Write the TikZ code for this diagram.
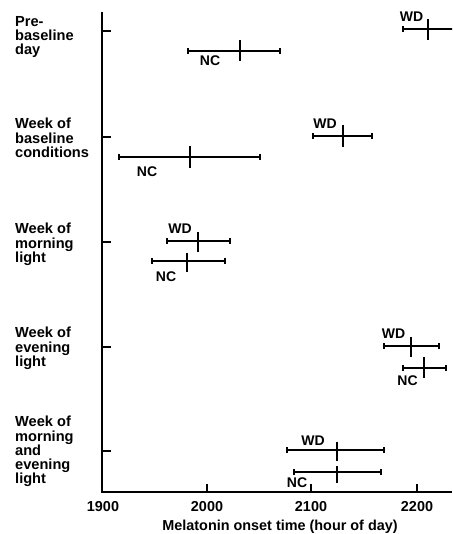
\documentclass[tikz,border=0pt]{standalone}
\usepackage{fontspec}
\setmainfont{Liberation Sans}
\begin{document}
\begin{tikzpicture}[x=1pt,y=-1pt,
  axisline/.style={line width=1.5pt},
  barline/.style={line width=1.3pt},
  midtick/.style={line width=2.7pt},
  rowlabel/.style={anchor=north west,inner sep=0pt,align=left,font=\fontsize{14.6}{14.3}\selectfont\bfseries},
  grp/.style={inner sep=0pt,font=\fontsize{14}{14}\selectfont\bfseries},
  ticklabel/.style={inner sep=0pt,font=\fontsize{14.4}{14}\selectfont\bfseries}]
\useasboundingbox (0,0) rectangle (452,534);
% error bar: y, left, centre, right, tick top, tick bottom
\newcommand\errbar[6]{%
  \draw[barline] (#2,#1) -- (#4,#1);
  \draw[barline] (#2,#1-3) -- (#2,#1+3);
  \draw[barline] (#4,#1-3) -- (#4,#1+3);
  \draw[midtick] (#3,#5) -- (#3,#6);}
% axes
\draw[axisline] (102,12) -- (102,492) -- (452,492);
\foreach \yy in {31,137,242,347,451} \draw[axisline] (102,\yy) -- (111,\yy);
\foreach \xx in {207,311,417} \draw[axisline] (\xx,492) -- (\xx,484);
\node[ticklabel] (t19) at (103,507) {1900};
\node[ticklabel] (t20) at (207,507) {2000};
\node[ticklabel] (t21) at (311,507) {2100};
\node[ticklabel] (t22) at (417,507) {2200};
\node[ticklabel,anchor=base] (xt) at (280,530) {Melatonin onset time (hour of day)};
% row labels
\node[rowlabel] (r1) at (15,16) {Pre-\\baseline\\day};
\node[rowlabel] (r2) at (15,118) {Week of\\baseline\\conditions};
\node[rowlabel] (r3) at (15,223) {Week of\\morning\\light};
\node[rowlabel] (r4) at (15,327) {Week of\\evening\\light};
\node[rowlabel] (r5) at (15,416) {Week of\\morning\\and\\evening\\light};
% pre-baseline
\begin{scope}
\clip (0,0) rectangle (452,534);
\errbar{29}{403}{428}{460}{19}{40}
\end{scope}
\node[grp] (w1) at (411.5,17) {WD};
\errbar{51}{188}{240}{280}{40}{61}
\node[grp] (n1) at (210,60.5) {NC};
% baseline
\errbar{136}{313}{343}{372}{125}{147}
\node[grp] (w2) at (325,124) {WD};
\errbar{157}{119}{190}{260}{146}{168}
\node[grp] (n2) at (147,171.5) {NC};
% morning
\errbar{241}{167}{198}{230}{232}{252}
\node[grp] (w3) at (180,229) {WD};
\errbar{261}{152}{187}{225}{253}{272}
\node[grp] (n3) at (166,276.5) {NC};
% evening
\errbar{346}{384}{411}{439}{337}{357}
\node[grp] (w4) at (393.5,334) {WD};
\errbar{368}{403}{424}{446}{357}{378}
\node[grp] (n4) at (407.5,381) {NC};
% both
\errbar{450}{287}{337}{384}{442}{461}
\node[grp] (w5) at (313,441) {WD};
\errbar{472}{294}{337}{381}{466}{483}
\node[grp] (n5) at (297,483) {NC};
\end{tikzpicture}
\end{document}
